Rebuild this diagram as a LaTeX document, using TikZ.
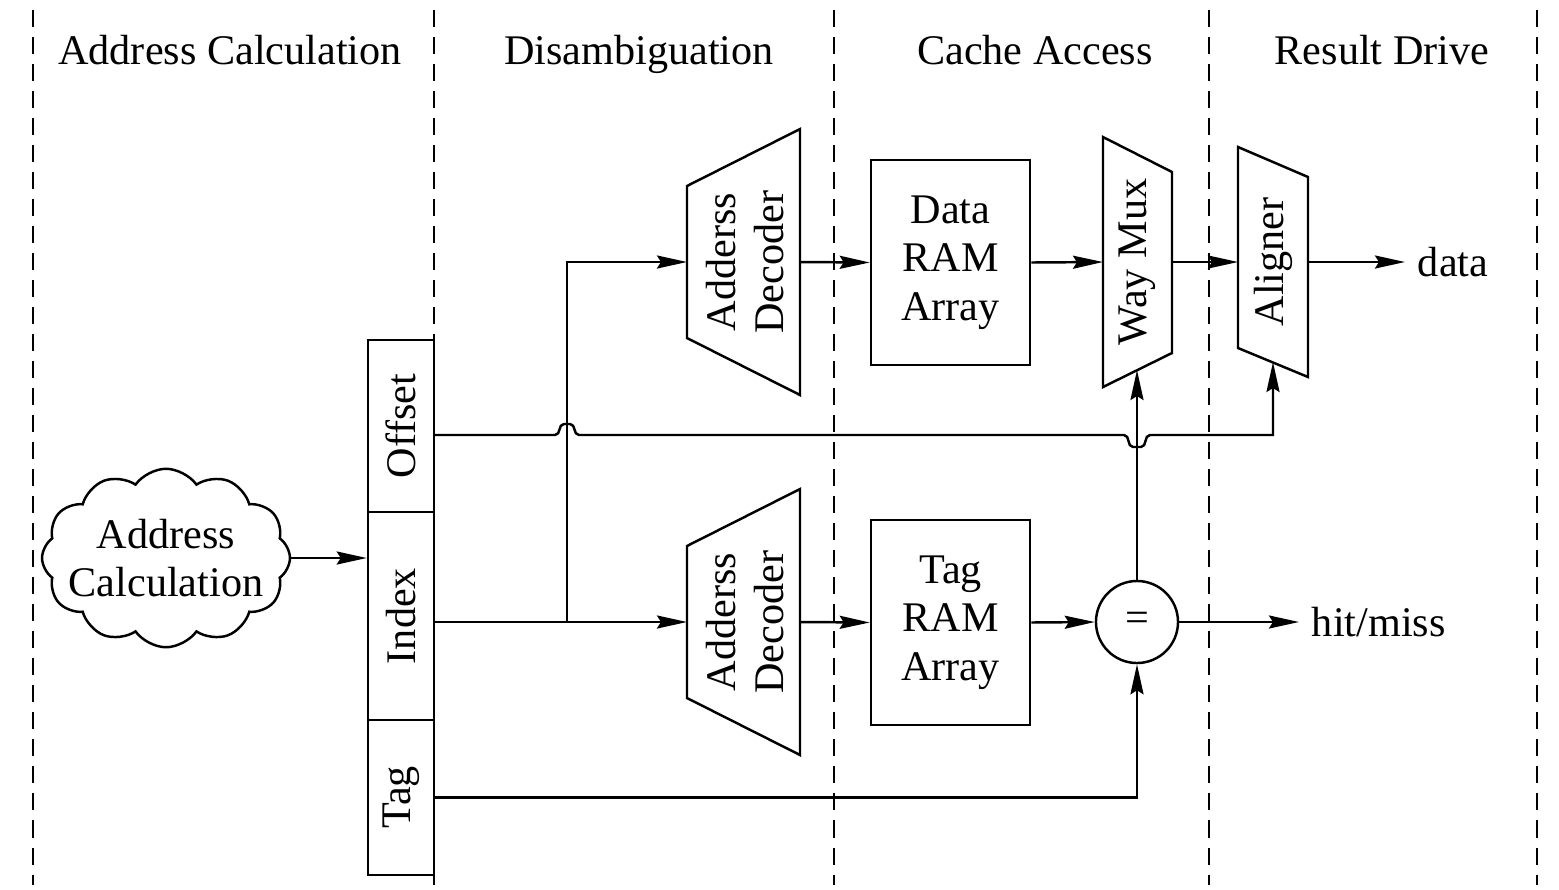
\documentclass[tikz,border=0pt]{standalone}
\usepackage{fontspec}
\setmainfont{Liberation Serif}
\usetikzlibrary{arrows.meta,shapes.symbols}
\begin{document}
\begin{tikzpicture}[x=0.01cm,y=-0.01cm,line width=0.7pt,
	arr/.style={-{Stealth[length=0.3cm,width=0.13cm,inset=0.04cm]}},
	txt/.style={font=\fontsize{12}{13.8}\selectfont,align=center}]
	\useasboundingbox (0,0) rectangle (1559,890);
	% stage borders and titles
	\foreach \x in {33,434,834,1209,1537}
		\draw [dash pattern=on 0.17cm off 0.1cm] (\x,10) -- (\x,885);
	\node[txt,anchor=base] (H1) at (230,64) {Address Calculation};
	\node[txt,anchor=base] (H2) at (639,64) {Disambiguation};
	\node[txt,anchor=base] (H3) at (1035,64) {Cache Access};
	\node[txt,anchor=base] (H4) at (1382,64) {Result Drive};
	% address
	\node[draw,cloud,cloud puffs=12,cloud puff arc=110,aspect=1.55,inner xsep=-0.14cm,inner ysep=-0.12cm,txt] (AC) at (166,558) {Address\\Calculation};
	\node[draw,minimum width=0.66cm,minimum height=1.72cm,txt] (O) at (401,426) {\rotatebox{90}{Offset}};
	\node[draw,minimum width=0.66cm,minimum height=2.08cm,txt] (I) at (401,616) {\rotatebox{90}{Index}};
	\node[draw,minimum width=0.66cm,minimum height=1.55cm,txt] (T) at (401,797.5) {\rotatebox{90}{Tag}};
	% decoders
	\coordinate (DA) at (687,262);
	\coordinate (DAe) at (800,262);
	\coordinate (DB) at (687,622);
	\coordinate (DBe) at (800,622);
	\draw (687,186) -- (800,129) -- (800,395) -- (687,338) -- cycle;
	\draw (687,546) -- (800,489) -- (800,755) -- (687,698) -- cycle;
	\node[txt,rotate=90] (DAt) at (745,262) {Adderss\\Decoder};
	\node[txt,rotate=90] (DBt) at (745,622) {Adderss\\Decoder};
	% arrays
	\node[draw,minimum width=1.59cm,minimum height=2.05cm,txt] (DR) at (950.5,262.5) {Data\\RAM\\Array};
	\node[draw,minimum width=1.59cm,minimum height=2.05cm,txt] (TR) at (950.5,622.5) {Tag\\RAM\\Array};
	% way mux, aligner, compare
	\coordinate (WMw) at (1103,262);
	\coordinate (WMe) at (1172,262);
	\coordinate (WMs) at (1137,370);
	\coordinate (ALw) at (1238,262);
	\coordinate (ALe) at (1308,262);
	\coordinate (ALs) at (1273,362);
	\draw (1103,137) -- (1172,172) -- (1172,353) -- (1103,387) -- cycle;
	\draw (1238,147) -- (1308,177) -- (1308,377) -- (1238,348) -- cycle;
	\node[txt,rotate=90] (WMt) at (1137,262) {Way Mux};
	\node[txt,rotate=90] (ALt) at (1273,262) {Aligner};
	\node[draw,circle,minimum size=0.82cm,inner sep=0pt,txt] (EQ) at (1137,622) {=};
	\node[txt,anchor=west] (data) at (1405,262) {data};
	\node[txt,anchor=west] (hm) at (1299,622) {hit/miss};
	% connections
	\coordinate (OF) at (434,435);
	\coordinate (IX) at (434,622);
	\coordinate (J) at (567,622);
	\draw [arr] (AC.east) -- (AC.east -| I.west);
	\draw [arr] (OF) -- (555,435) .. controls (561,435) and (558,424) .. (564,424) -- (570,424)
		.. controls (576,424) and (573,435) .. (579,435) -- (1124,435)
		.. controls (1130,435) and (1127,447) .. (1133,447) -- (1141,447)
		.. controls (1147,447) and (1144,435) .. (1150,435) -- (1273,435) -- (ALs);
	\draw [arr] (IX) -- (DB);
	\draw [arr] (J) |- (DA);
	\draw [arr] (DAe) -- (DR.west);
	\draw [arr] (DBe) -- (TR.west);
	\draw [arr] (DR.east) -- (WMw);
	\draw [arr] (TR.east) -- (EQ.west);
	\draw [arr] (WMe) -- (ALw);
	\draw [arr] (ALe) -- (data.west);
	\draw [arr] (EQ.east) -- (hm.west);
	\draw [arr] (EQ.north) -- (WMs);
	\draw [arr] (T.east) -| (EQ.south);
\end{tikzpicture}
\end{document}
